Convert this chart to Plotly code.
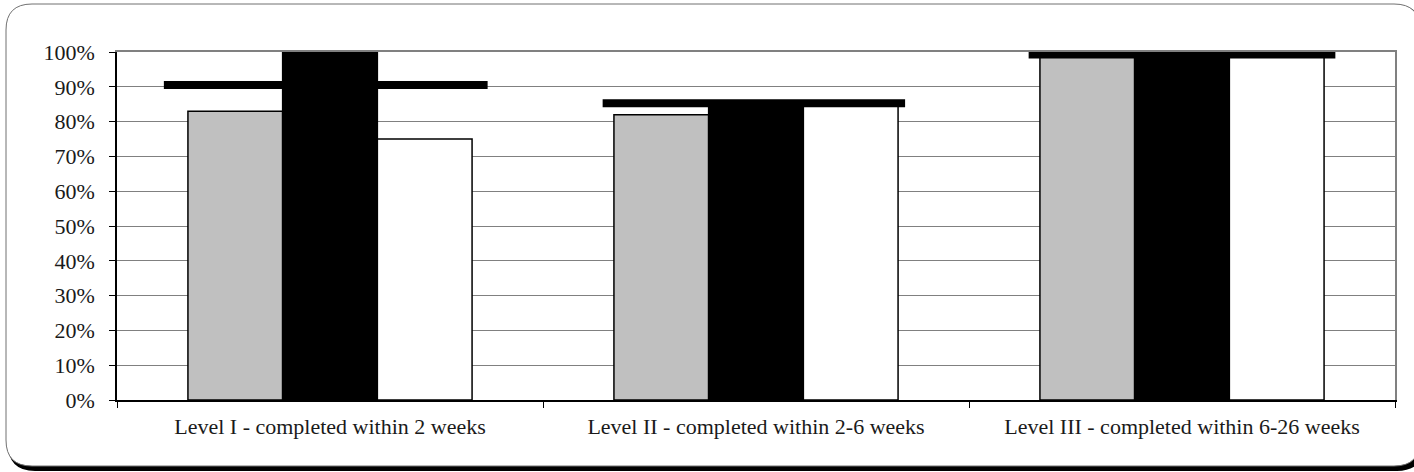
import plotly.graph_objects as go

# data
categories = ["Level I - completed within 2 weeks",
              "Level II - completed within 2-6 weeks",
              "Level III - completed within 6-26 weeks"]
series_gray = [0.83, 0.82, 1.00]
series_black = [1.00, 0.86, 1.00]
series_white = [0.75, 0.85, 1.00]
targets = [0.905, 0.853, 0.993]

# horizontal extent of each target line, in category units around the centre
target_span = [(-0.39, 0.37), (-0.36, 0.35), (-0.36, 0.36)]

W, H = 1414, 472
L, R, T, B = 117, 19, 52, 72
font = "Liberation Serif"


def px_x(p):
    return (p - L) / (W - L - R)


def px_y(p):
    return (H - B - p) / (H - T - B)


def rounded(x0, y0, x1, y1, r):
    # rounded rectangle path in paper coords, corners given in pixels
    X = px_x
    Y = px_y
    return (f"M {X(x0 + r)} {Y(y0)} L {X(x1 - r)} {Y(y0)} Q {X(x1)} {Y(y0)} {X(x1)} {Y(y0 + r)} "
            f"L {X(x1)} {Y(y1 - r)} Q {X(x1)} {Y(y1)} {X(x1 - r)} {Y(y1)} "
            f"L {X(x0 + r)} {Y(y1)} Q {X(x0)} {Y(y1)} {X(x0)} {Y(y1 - r)} "
            f"L {X(x0)} {Y(y0 + r)} Q {X(x0)} {Y(y0)} {X(x0 + r)} {Y(y0)} Z")


fig = go.Figure()
bar_line = dict(color="black", width=1.5)
fig.add_trace(go.Bar(x=categories, y=series_gray, marker=dict(color="#C0C0C0", line=bar_line)))
fig.add_trace(go.Bar(x=categories, y=series_black, marker=dict(color="black", line=bar_line)))
fig.add_trace(go.Bar(x=categories, y=series_white, marker=dict(color="white", line=bar_line)))

lx, ly = [], []
for i, (t, (a, b)) in enumerate(zip(targets, target_span)):
    lx += [i + a, i + b, None]
    ly += [t, t, None]
fig.add_trace(go.Scatter(x=lx, y=ly, xaxis="x2", yaxis="y2", mode="lines",
                         line=dict(color="black", width=8), cliponaxis=False))

fig.update_layout(
    width=W, height=H,
    margin=dict(l=L, r=R, t=T, b=B),
    barmode="group", bargap=0.333, bargroupgap=0,
    showlegend=False,
    paper_bgcolor="white", plot_bgcolor="white",
    font=dict(family=font, size=22, color="#1a1a1a"),
    xaxis=dict(type="category", range=[-0.5, 2.5], showgrid=False,
               showline=True, linecolor="black", linewidth=1.5,
               ticks="outside", tickson="boundaries", ticklen=6, tickcolor="black",
               ticklabelstandoff=6),
    # grey top / right frame of the plot area, also used by the target lines
    xaxis2=dict(overlaying="x", range=[-0.5, 2.5], side="top", showgrid=False,
                showticklabels=False, ticks="", zeroline=False,
                showline=True, linecolor="#808080", linewidth=2, layer="below traces"),
    yaxis=dict(range=[0, 1], dtick=0.1, tickformat=".0%",
               showgrid=True, gridcolor="#808080", gridwidth=1,
               showline=True, linecolor="black", linewidth=1.5,
               ticks="outside", ticklen=6, tickcolor="black",
               ticklabelstandoff=10, zeroline=False),
    yaxis2=dict(overlaying="y", range=[0, 1], side="right", showgrid=False,
                showticklabels=False, ticks="", zeroline=False,
                showline=True, linecolor="#808080", linewidth=2, layer="below traces"),
    shapes=[
        # shadow and outer rounded frame
        dict(type="path", xref="paper", yref="paper", layer="below",
             path=rounded(9, 7, 1423, 470, 26), line=dict(color="black", width=2),
             fillcolor="black"),
        dict(type="path", xref="paper", yref="paper", layer="below",
             path=rounded(6, 4, 1420, 466, 26), line=dict(color="#707070", width=1),
             fillcolor="white"),
    ],
)

fig.write_html("out.html", config={"displayModeBar": False},
               post_script="document.body.style.margin='0';")
